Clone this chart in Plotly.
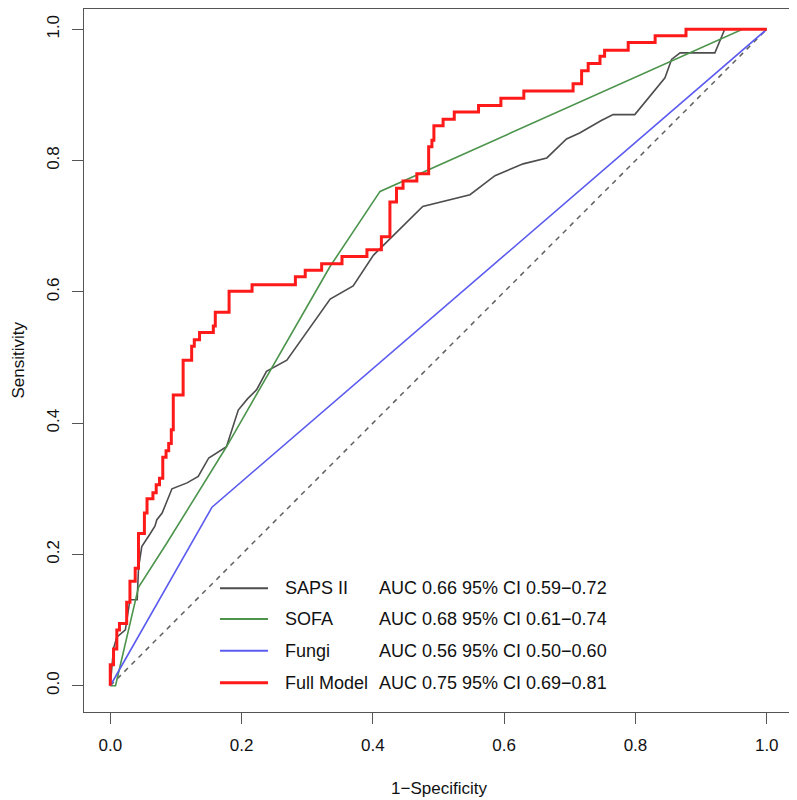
import plotly.graph_objects as go

# ---- data ----
full_fpr = [0, 0, 0.005, 0.010, 0.014, 0.025, 0.030, 0.038, 0.043, 0.052,
            0.056, 0.065, 0.070, 0.075, 0.080, 0.085, 0.089, 0.093, 0.096, 0.111,
            0.124, 0.128, 0.136, 0.157, 0.160, 0.181, 0.216, 0.282, 0.297, 0.322,
            0.353, 0.391, 0.413, 0.426, 0.436, 0.446, 0.467, 0.485, 0.490, 0.493,
            0.507, 0.524, 0.561, 0.595, 0.630, 0.705, 0.718, 0.728, 0.746, 0.753,
            0.789, 0.830, 0.877, 1.0]
full_tpr = [0, 0.032, 0.056, 0.085, 0.095, 0.127, 0.159, 0.179, 0.232, 0.263,
            0.285, 0.294, 0.306, 0.316, 0.348, 0.358, 0.369, 0.390, 0.443, 0.496,
            0.517, 0.527, 0.538, 0.548, 0.569, 0.601, 0.611, 0.623, 0.633, 0.643,
            0.654, 0.664, 0.684, 0.737, 0.758, 0.769, 0.780, 0.821, 0.831, 0.853,
            0.863, 0.874, 0.884, 0.895, 0.906, 0.917, 0.937, 0.948, 0.959, 0.968,
            0.980, 0.990, 1.0, 1.0]

saps_fpr = [0, 0.005, 0.010, 0.023, 0.030, 0.041, 0.043, 0.048, 0.061, 0.068,
            0.071, 0.079, 0.094, 0.117, 0.134, 0.150, 0.177, 0.195, 0.209, 0.223,
            0.238, 0.269, 0.335, 0.370, 0.401, 0.441, 0.476, 0.548, 0.586, 0.629,
            0.665, 0.695, 0.715, 0.748, 0.766, 0.799, 0.832, 0.845, 0.855, 0.868,
            0.921, 0.936, 1.0]
saps_tpr = [0, 0.057, 0.074, 0.085, 0.131, 0.131, 0.179, 0.212, 0.232, 0.243,
            0.253, 0.263, 0.300, 0.309, 0.319, 0.347, 0.364, 0.420, 0.437, 0.451,
            0.479, 0.496, 0.589, 0.609, 0.656, 0.696, 0.730, 0.748, 0.777, 0.795,
            0.804, 0.833, 0.842, 0.861, 0.870, 0.870, 0.909, 0.926, 0.954, 0.964,
            0.964, 1.0, 1.0]

sofa_fpr = [0, 0.008, 0.043, 0.086, 0.177, 0.335, 0.411, 0.963, 1.0]
sofa_tpr = [0, 0.0, 0.150, 0.217, 0.364, 0.639, 0.753, 1.0, 1.0]

fungi_fpr = [0, 0.155, 1.0]
fungi_tpr = [0, 0.272, 1.0]

ref_line = [0, 1]

model_names = ["SAPS II", "SOFA", "Fungi", "Full Model"]
auc_texts = ["AUC 0.66 95% CI 0.59\u22120.72",
             "AUC 0.68 95% CI 0.61\u22120.74",
             "AUC 0.56 95% CI 0.50\u22120.60",
             "AUC 0.75 95% CI 0.69\u22120.81"]
tick_vals = [0, 0.2, 0.4, 0.6, 0.8, 1.0]
tick_text = ["0.0", "0.2", "0.4", "0.6", "0.8", "1.0"]

# ---- styles ----
colors = ["#4d4d4d", "#4c944c", "#5b5bf0", "#ff1a1a"]
widths = [1.6, 1.6, 1.6, 3]
FONT = "Liberation Sans, Arial, Helvetica, sans-serif"

fig = go.Figure()
fig.add_trace(go.Scatter(x=ref_line, y=ref_line, mode="lines",
                         line=dict(color="#606060", width=1.5, dash="5px,5px"),
                         showlegend=False, hoverinfo="skip"))
fig.add_trace(go.Scatter(x=saps_fpr, y=saps_tpr, mode="lines",
                         line=dict(color=colors[0], width=widths[0]), name=model_names[0]))
fig.add_trace(go.Scatter(x=sofa_fpr, y=sofa_tpr, mode="lines",
                         line=dict(color=colors[1], width=widths[1]), name=model_names[1]))
fig.add_trace(go.Scatter(x=fungi_fpr, y=fungi_tpr, mode="lines",
                         line=dict(color=colors[2], width=widths[2]), name=model_names[2]))
fig.add_trace(go.Scatter(x=full_fpr, y=full_tpr, mode="lines",
                         line=dict(color=colors[3], width=widths[3], shape="hv"),
                         name=model_names[3]))

axis_common = dict(
    showgrid=False, zeroline=False, automargin=False,
    showline=True, mirror=True, linecolor="#555555", linewidth=1.3,
    ticks="outside", ticklen=11, tickwidth=1.3, tickcolor="#555555",
    tickvals=tick_vals, ticktext=tick_text,
    tickfont=dict(family=FONT, size=17, color="#111111"),
)

# the page body adds an 8px offset, so the figure is sized/positioned to compensate
fig.update_layout(
    width=789, height=792,
    margin=dict(l=76, r=4, t=1, b=88, autoexpand=False),
    paper_bgcolor="white", plot_bgcolor="white",
    showlegend=False,
    xaxis=dict(**axis_common, range=[-0.04, 1.04], ticklabelstandoff=6),
    yaxis=dict(**axis_common, range=[-0.04, 1.0309], tickangle=-90, ticklabelstandoff=6),
    font=dict(family=FONT, color="#111111"),
)

# axis titles
fig.add_annotation(text="1\u2212Specificity", xref="paper", yref="paper", x=0.5, y=0,
                   xanchor="center", yanchor="middle", yshift=-76, showarrow=False,
                   font=dict(family=FONT, size=17, color="#111111"))
fig.add_annotation(text="Sensitivity", xref="paper", yref="paper", x=0, y=0.5,
                   xanchor="center", yanchor="middle", xshift=-66, textangle=-90,
                   showarrow=False, font=dict(family=FONT, size=17, color="#111111"))

# legend (drawn manually to mimic R's legend layout)
row_y = [0.1760, 0.1323, 0.0872, 0.0417]
for i in range(4):
    fig.add_shape(type="line", xref="paper", yref="paper",
                  x0=0.1918, x1=0.2595, y0=row_y[i], y1=row_y[i],
                  line=dict(color=colors[i], width=widths[i] if i == 3 else 2))
    fig.add_annotation(text=model_names[i], xref="paper", yref="paper",
                       x=0.2807, y=row_y[i], xanchor="left", yanchor="middle",
                       showarrow=False, font=dict(family=FONT, size=18, color="#111111"))
    fig.add_annotation(text=auc_texts[i], xref="paper", yref="paper",
                       x=0.4127, y=row_y[i], xanchor="left", yanchor="middle",
                       showarrow=False, font=dict(family=FONT, size=18, color="#111111"))

fig.write_html("out.html")
